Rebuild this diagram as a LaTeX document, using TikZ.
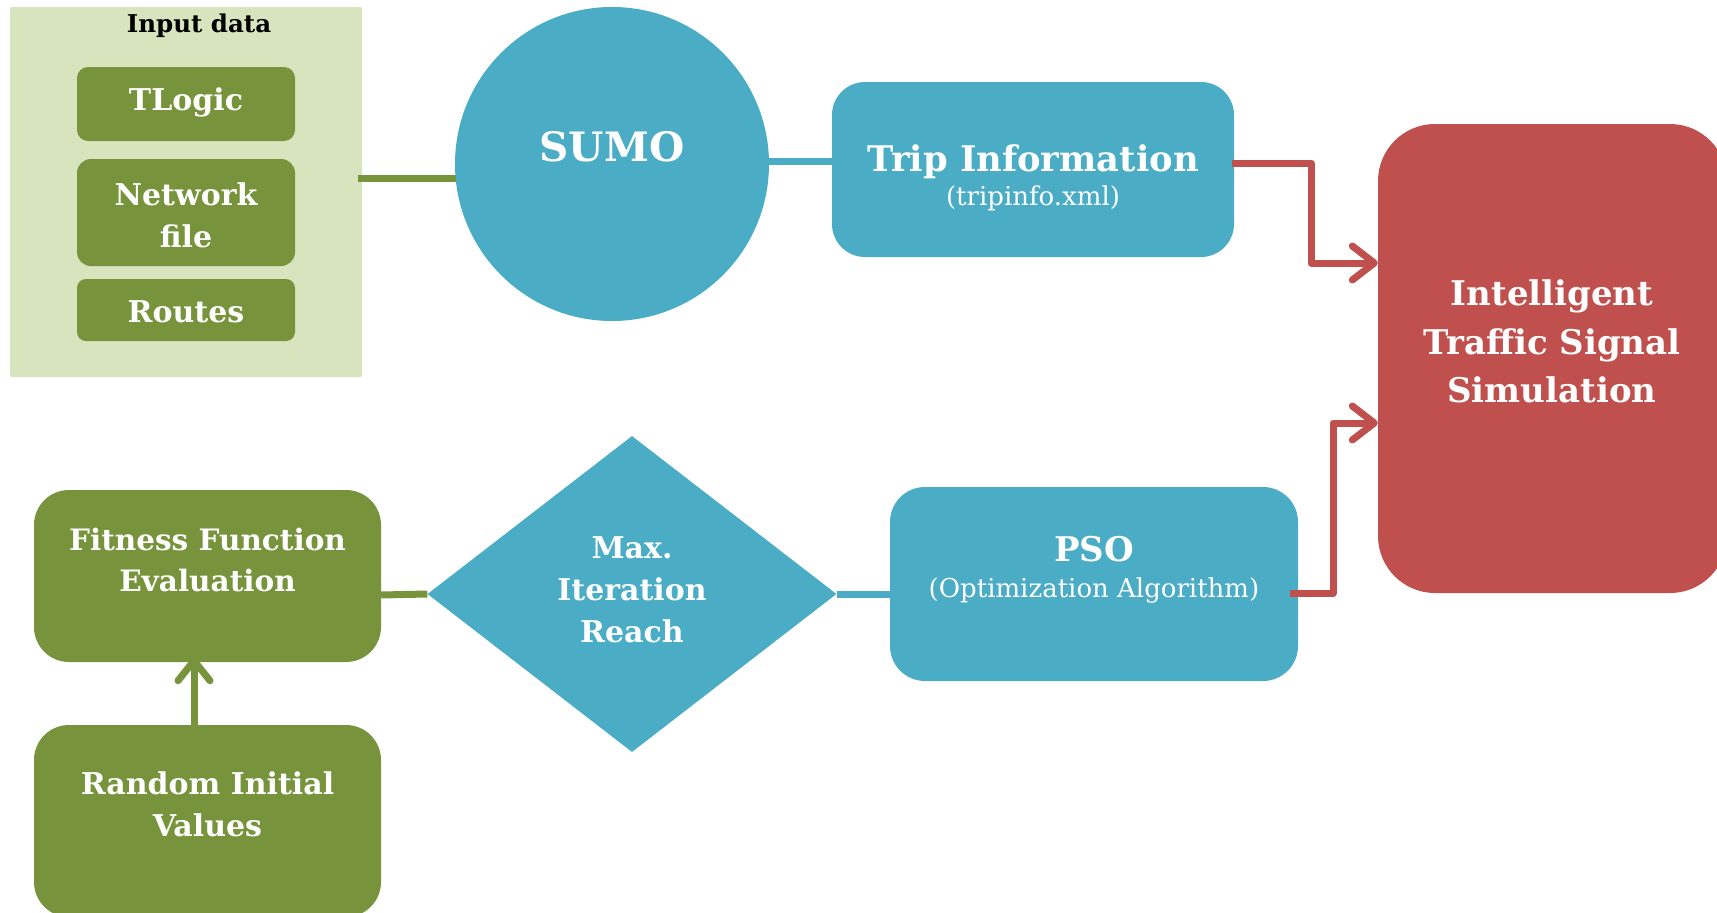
\documentclass[tikz,border=0pt]{standalone}
\usepackage{fontspec}
\setmainfont{DejaVu Serif}
\usetikzlibrary{shapes.geometric,arrows.meta,calc}
\definecolor{cgreen}{HTML}{77933C}
\definecolor{clight}{HTML}{D7E4BD}
\definecolor{cblue}{HTML}{4BACC6}
\definecolor{cred}{HTML}{C0504D}
\begin{document}
\begin{tikzpicture}[x=1pt,y=-1pt,
  rbox/.style={rectangle,inner sep=0pt,draw=none,rounded corners=#1},
  rbox/.default=10pt,
  ln/.style={inner sep=0pt,text=white,anchor=base,yshift={-0.365*#1},
    font=\bfseries\fontsize{#1}{#1}\selectfont},
  lnr/.style={inner sep=0pt,text=white,anchor=base,yshift={-0.365*#1},
    font=\fontsize{#1}{#1}\selectfont},
  conn/.style={line width=7pt,draw=#1},
  redarrow/.style={line width=7pt,draw=cred,line join=round,
    -{Straight Barb[length=22pt,width=34pt,line width=7pt,round]}},
  greenarrow/.style={line width=7pt,draw=cgreen,
    -{Straight Barb[length=20pt,width=32pt,line width=7pt,round]}}]
\useasboundingbox (0,0) rectangle (1717,913);
\clip (0,0) rectangle (1717,913);
\fill[white] (0,0) rectangle (1717,913);

% input data panel
\node[rbox=2pt,fill=clight,minimum width=352pt,minimum height=370pt] (inbox) at (186,192) {};
\node[ln=24.5,text=black] (intitle) at (199,24) {Input data};
\node[rbox=11pt,fill=cgreen,minimum width=218pt,minimum height=74pt] (tlogic) at (186,104) {};
\node[ln=30] (tlogict) at (186,100) {TLogic};
\node[rbox=14pt,fill=cgreen,minimum width=218pt,minimum height=107pt] (netf) at (186,212.5) {};
\node[ln=30] (netft1) at (186,195) {Network};
\node[ln=30] (netft2) at (186,237) {file};
\node[rbox=9pt,fill=cgreen,minimum width=218pt,minimum height=62pt] (routes) at (186,310) {};
\node[ln=30] (routest) at (186,312) {Routes};

% SUMO
\node[circle,inner sep=0pt,fill=cblue,minimum size=314pt] (sumo) at (612,164) {};
\node[ln=40.5] (sumot) at (612,147) {SUMO};

% trip information
\node[rbox=33pt,fill=cblue,minimum width=402pt,minimum height=175pt] (trip) at (1033,169.5) {};
\node[ln=35.3] (tript1) at (1033,158.5) {Trip Information};
\node[lnr=26] (tript2) at (1033,196) {(tripinfo.xml)};

% result
\node[rbox=57pt,fill=cred,minimum width=349pt,minimum height=469pt] (res) at (1552.5,358.5) {};
\node[ln=34] (rest1) at (1552,293) {Intelligent};
\node[ln=34] (rest2) at (1552,342) {Traffic Signal};
\node[ln=34] (rest3) at (1552,390) {Simulation};

% fitness / random
\node[rbox=35pt,fill=cgreen,minimum width=347pt,minimum height=172pt] (fit) at (207.5,576) {};
\node[ln=29.5] (fitt1) at (207.5,540) {Fitness Function};
\node[ln=29.5] (fitt2) at (207.5,581) {Evaluation};
\node[rbox=35pt,fill=cgreen,minimum width=347pt,minimum height=192pt] (rand) at (207.5,821) {};
\node[ln=30] (randt1) at (207.5,784) {Random Initial};
\node[ln=30] (randt2) at (207.5,826) {Values};

% diamond
\node[diamond,inner sep=0pt,fill=cblue,minimum width=409pt,minimum height=316pt] (dia) at (632,594) {};
\node[ln=30] (diat1) at (632,548) {Max.};
\node[ln=30] (diat2) at (632,590) {Iteration};
\node[ln=30] (diat3) at (632,632) {Reach};

% PSO
\node[rbox=35pt,fill=cblue,minimum width=408pt,minimum height=194pt] (pso) at (1094,584) {};
\node[ln=34] (psot1) at (1094,549.5) {PSO};
\node[lnr=26] (psot2) at (1094,588) {(Optimization Algorithm)};

% connectors
\draw[conn=cgreen] ($(inbox.east)+(-4,-14)$) -- ($(sumo.west)+(1,14)$);
\draw[conn=cblue] ($(sumo.east)+(-4,-3)$) -- ($(trip.west)+(0,-8.5)$);
\coordinate (r1a) at ($(trip.east)+(-2,-6.5)$);
\coordinate (r1b) at (1311,263);
\draw[redarrow] (r1a) -| (r1b) -- (r1b -| res.west);
\coordinate (r2a) at ($(pso.east)+(-8,9)$);
\coordinate (r2b) at (1333,423);
\draw[redarrow] (r2a) -| (r2b) -- (r2b -| res.west);
\draw[conn=cgreen] ($(fit.east)+(0,19)$) -- (dia.west);
\draw[conn=cblue] (dia.east) -- (dia.east -| pso.west);
\draw[greenarrow] ($(rand.north)+(-13.5,0)$) -- ($(fit.south)+(-13.5,-5)$);
\end{tikzpicture}
\end{document}
